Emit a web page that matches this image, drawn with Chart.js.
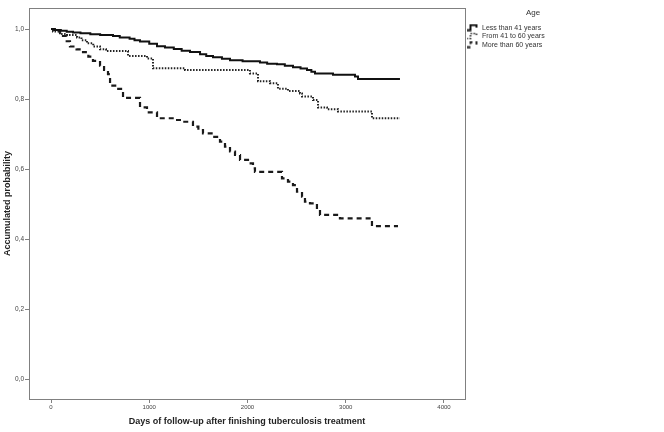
<!DOCTYPE html>
<html>
<head>
<meta charset="utf-8">
<script src="https://cdn.jsdelivr.net/npm/chart.js@4/dist/chart.umd.min.js"></script>
<style>
  html, body { margin: 0; padding: 0; background: #fff; }
  #wrap { width: 664px; height: 432px; }
</style>
</head>
<body>
<div id="wrap"><canvas id="c" width="664" height="432"></canvas></div>
<script>
// ---- data ----
const seriesNames = ['Less than 41 years', 'From 41 to 60 years', 'More than 60 years'];

const daysLt41 = [0, 40, 100, 160, 224, 300, 400, 500, 631, 700, 800, 850, 906, 1000, 1079, 1160, 1250, 1330, 1415, 1517, 1580, 1649, 1740, 1822, 1950, 2127, 2200, 2300, 2380, 2463, 2540, 2606, 2650, 2687, 2870, 3094, 3125, 3552];
const survLt41 = [1.0, 0.997, 0.995, 0.992, 0.99, 0.988, 0.985, 0.983, 0.98, 0.976, 0.972, 0.968, 0.964, 0.958, 0.951, 0.947, 0.943, 0.938, 0.934, 0.928, 0.923, 0.919, 0.915, 0.911, 0.908, 0.904, 0.901, 0.899, 0.895, 0.891, 0.887, 0.883, 0.878, 0.873, 0.869, 0.864, 0.857, 0.857];

const days41to60 = [0, 20, 92, 163, 265, 310, 366, 430, 499, 560, 784, 977, 1038, 1364, 2025, 2107, 2229, 2310, 2412, 2534, 2555, 2667, 2718, 2809, 2921, 3267, 3552];
const surv41to60 = [1.0, 0.993, 0.986, 0.983, 0.976, 0.968, 0.959, 0.95, 0.942, 0.937, 0.923, 0.916, 0.888, 0.883, 0.873, 0.851, 0.845, 0.829, 0.823, 0.816, 0.807, 0.797, 0.776, 0.771, 0.764, 0.745, 0.745];

const daysGt60 = [0, 30, 92, 122, 160, 193, 260, 326, 380, 427, 499, 540, 580, 601, 672, 733, 906, 977, 1079, 1250, 1344, 1445, 1500, 1547, 1649, 1720, 1771, 1822, 1873, 1924, 2005, 2056, 2076, 2351, 2412, 2463, 2504, 2555, 2585, 2636, 2707, 2738, 2941, 3267, 3532];
const survGt60 = [1.0, 0.994, 0.988, 0.98, 0.965, 0.95, 0.942, 0.934, 0.921, 0.909, 0.895, 0.883, 0.871, 0.838, 0.829, 0.803, 0.776, 0.762, 0.745, 0.74, 0.735, 0.721, 0.711, 0.702, 0.692, 0.678, 0.664, 0.65, 0.64, 0.626, 0.616, 0.602, 0.592, 0.573, 0.564, 0.554, 0.535, 0.521, 0.507, 0.502, 0.483, 0.469, 0.459, 0.437, 0.437];

const xTickValues = [0, 1000, 2000, 3000, 4000];
const xTickLabels = ['0', '1000', '2000', '3000', '4000'];
const yTickValues = [0, 0.2, 0.4, 0.6, 0.8, 1.0];
const yTickLabels = ['0,0', '0,2', '0,4', '0,6', '0,8', '1,0'];

const xTitle = 'Days of follow-up after finishing tuberculosis treatment';
const yTitle = 'Accumulated probability';
const legendTitle = 'Age';

// ---- helpers ----
function pts(xs, ys) { return xs.map((x, i) => ({ x: x, y: ys[i] })); }

function legendSymbol(dash, width, color) {
  const cv = document.createElement('canvas');
  cv.width = 12; cv.height = 8;
  const g = cv.getContext('2d');
  g.strokeStyle = color;
  g.lineWidth = width;
  g.setLineDash(dash);
  g.beginPath();
  g.moveTo(0, 6.5);
  g.lineTo(4, 6.5);
  g.lineTo(4, 1.5);
  g.lineTo(10, 1.5);
  g.lineTo(10, 4);
  g.stroke();
  return cv;
}

const FONT = "'Liberation Sans', Arial, sans-serif";
const LEGEND_W = 136;

const legendWidthFix = {
  id: 'legendWidthFix',
  beforeLayout(chart) {
    const lg = chart.legend;
    if (lg && !lg.__fixed) {
      const f = lg.fit.bind(lg);
      lg.fit = function () { f(); this.width = LEGEND_W; };
      lg.__fixed = true;
    }
  }
};

const frameBox = {
  id: 'frameBox',
  afterDatasetsDraw(chart) {
    const a = chart.chartArea, g = chart.ctx;
    g.save();
    g.strokeStyle = '#808080';
    g.lineWidth = 1;
    g.strokeRect(Math.round(a.left) + 0.5, Math.round(a.top) + 0.5, Math.round(a.right - a.left), Math.round(a.bottom - a.top));
    g.restore();
  }
};

new Chart(document.getElementById('c'), {
  type: 'line',
  data: {
    datasets: [
      {
        label: seriesNames[0],
        data: pts(daysLt41, survLt41),
        borderColor: '#111',
        borderWidth: 2,
        stepped: 'before',
        pointRadius: 0,
        pointStyle: legendSymbol([], 2, '#111'),
        fill: false
      },
      {
        label: seriesNames[1],
        data: pts(days41to60, surv41to60),
        borderColor: '#222',
        borderWidth: 2,
        borderDash: [1.5, 1.5],
        stepped: 'before',
        pointRadius: 0,
        pointStyle: legendSymbol([1.5, 1.5], 1.6, '#222'),
        fill: false
      },
      {
        label: seriesNames[2],
        data: pts(daysGt60, survGt60),
        borderColor: '#1a1a1a',
        borderWidth: 2.2,
        borderDash: [5, 4],
        stepped: 'before',
        pointRadius: 0,
        pointStyle: legendSymbol([4, 3], 1.8, '#1a1a1a'),
        fill: false
      }
    ]
  },
  options: {
    responsive: false,
    animation: false,
    devicePixelRatio: 1,
    layout: { padding: { left: 0, top: 8, right: 63, bottom: 0 } },
    plugins: {
      tooltip: { enabled: false },
      legend: {
        display: true,
        position: 'right',
        align: 'start',
        title: {
          display: true,
          text: legendTitle,
          color: '#333',
          font: { family: FONT, size: 8 },
          padding: { top: 1, bottom: 4 }
        },
        labels: {
          usePointStyle: true,
          pointStyleWidth: 12,
          boxHeight: 7,
          padding: 1.5,
          color: '#333',
          font: { family: FONT, size: 7 }
        }
      }
    },
    scales: {
      x: {
        type: 'linear',
        min: -224,
        max: 4214,
        afterFit(s) { s.height = 33; },
        afterBuildTicks(s) { s.ticks = xTickValues.map(v => ({ value: v })); },
        ticks: {
          autoSkip: false,
          maxRotation: 0,
          padding: 1,
          color: '#444',
          font: { family: FONT, size: 6 },
          callback(v) { const i = xTickValues.indexOf(v); return i >= 0 ? xTickLabels[i] : ''; }
        },
        grid: { drawOnChartArea: false, drawTicks: true, tickLength: 4, color: '#808080' },
        border: { display: true, color: '#808080', width: 1 },
        title: {
          display: true,
          text: xTitle,
          color: '#222',
          font: { family: FONT, size: 9, weight: 'bold' },
          padding: { top: 0, bottom: 5 }
        }
      },
      y: {
        type: 'linear',
        min: -0.057,
        max: 1.06,
        afterFit(s) { s.width = 29; },
        afterBuildTicks(s) { s.ticks = yTickValues.map(v => ({ value: v })); },
        ticks: {
          autoSkip: false,
          padding: 1,
          color: '#444',
          font: { family: FONT, size: 6.5 },
          callback(v) {
            const i = yTickValues.findIndex(t => Math.abs(t - v) < 1e-9);
            return i >= 0 ? yTickLabels[i] : '';
          }
        },
        grid: { drawOnChartArea: false, drawTicks: true, tickLength: 4, color: '#808080' },
        border: { display: true, color: '#808080', width: 1 },
        title: {
          display: true,
          text: yTitle,
          color: '#222',
          font: { family: FONT, size: 9, weight: 'bold' },
          padding: { top: 2, bottom: 0 }
        }
      }
    }
  },
  plugins: [legendWidthFix, frameBox]
});
</script>
</body>
</html>
